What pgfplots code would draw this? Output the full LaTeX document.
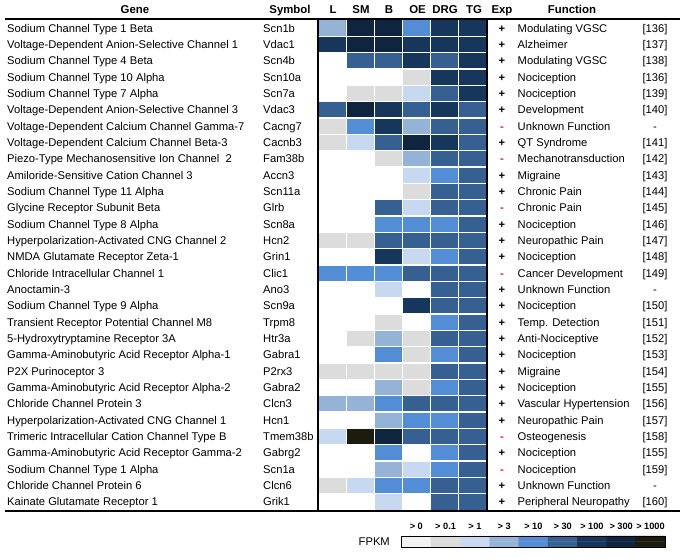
\documentclass[border=0pt]{standalone}
\usepackage{pgfplots}
\pgfplotsset{compat=1.18}
\usepackage{fontspec}
\setmainfont{Liberation Sans}
\definecolor{expred}{RGB}{225,20,20}
\newcommand\expp{\textbf{+}}
\newcommand\expm{\textbf{\textcolor{expred}{-}}}
\begin{document}
\begin{tikzpicture}
\begin{axis}[
  x=1pt, y=1pt, xmin=0, xmax=683, ymin=0, ymax=558, y dir=reverse,
  hide axis, clip=false, scale only axis,
  colormap={fpkm}{rgb255=(255,255,255) rgb255=(242,242,242) rgb255=(220,220,220)
    rgb255=(198,217,241) rgb255=(149,179,215) rgb255=(83,141,213) rgb255=(54,96,146)
    rgb255=(22,54,92) rgb255=(15,36,62) rgb255=(29,27,16)},
  colormap access=direct,
]
% heatmap: r = row (gene), c = column (L, SM, B, OE, DRG, TG), v = FPKM class
\addplot[matrix plot*, mesh/cols=6, point meta=explicit]
  table[x expr={332.083+28.1667*\thisrow{c}}, y expr={28.167+16.3333*\thisrow{r}}, meta=v, row sep=\\] {
r c v\\
0 0 4\\ 0 1 8\\ 0 2 8\\ 0 3 5\\ 0 4 7\\ 0 5 7\\
1 0 7\\ 1 1 8\\ 1 2 8\\ 1 3 7\\ 1 4 7\\ 1 5 7\\
2 0 0\\ 2 1 6\\ 2 2 6\\ 2 3 7\\ 2 4 6\\ 2 5 7\\
3 0 0\\ 3 1 0\\ 3 2 0\\ 3 3 2\\ 3 4 7\\ 3 5 7\\
4 0 0\\ 4 1 2\\ 4 2 2\\ 4 3 3\\ 4 4 6\\ 4 5 7\\
5 0 6\\ 5 1 8\\ 5 2 7\\ 5 3 6\\ 5 4 7\\ 5 5 6\\
6 0 2\\ 6 1 5\\ 6 2 7\\ 6 3 4\\ 6 4 6\\ 6 5 6\\
7 0 2\\ 7 1 3\\ 7 2 6\\ 7 3 8\\ 7 4 7\\ 7 5 6\\
8 0 0\\ 8 1 0\\ 8 2 2\\ 8 3 4\\ 8 4 6\\ 8 5 6\\
9 0 0\\ 9 1 0\\ 9 2 0\\ 9 3 3\\ 9 4 5\\ 9 5 6\\
10 0 0\\ 10 1 0\\ 10 2 0\\ 10 3 2\\ 10 4 6\\ 10 5 6\\
11 0 0\\ 11 1 0\\ 11 2 6\\ 11 3 3\\ 11 4 6\\ 11 5 6\\
12 0 0\\ 12 1 0\\ 12 2 5\\ 12 3 5\\ 12 4 5\\ 12 5 6\\
13 0 2\\ 13 1 2\\ 13 2 6\\ 13 3 6\\ 13 4 6\\ 13 5 6\\
14 0 0\\ 14 1 0\\ 14 2 7\\ 14 3 3\\ 14 4 5\\ 14 5 6\\
15 0 5\\ 15 1 5\\ 15 2 5\\ 15 3 6\\ 15 4 6\\ 15 5 6\\
16 0 0\\ 16 1 0\\ 16 2 3\\ 16 3 0\\ 16 4 6\\ 16 5 6\\
17 0 0\\ 17 1 0\\ 17 2 0\\ 17 3 7\\ 17 4 6\\ 17 5 6\\
18 0 0\\ 18 1 0\\ 18 2 2\\ 18 3 0\\ 18 4 5\\ 18 5 6\\
19 0 0\\ 19 1 2\\ 19 2 4\\ 19 3 2\\ 19 4 6\\ 19 5 6\\
20 0 0\\ 20 1 0\\ 20 2 5\\ 20 3 2\\ 20 4 5\\ 20 5 6\\
21 0 2\\ 21 1 2\\ 21 2 2\\ 21 3 2\\ 21 4 6\\ 21 5 6\\
22 0 0\\ 22 1 0\\ 22 2 4\\ 22 3 2\\ 22 4 5\\ 22 5 6\\
23 0 4\\ 23 1 4\\ 23 2 5\\ 23 3 6\\ 23 4 6\\ 23 5 6\\
24 0 0\\ 24 1 0\\ 24 2 4\\ 24 3 5\\ 24 4 5\\ 24 5 6\\
25 0 3\\ 25 1 9\\ 25 2 8\\ 25 3 6\\ 25 4 6\\ 25 5 6\\
26 0 0\\ 26 1 0\\ 26 2 5\\ 26 3 0\\ 26 4 5\\ 26 5 6\\
27 0 0\\ 27 1 0\\ 27 2 4\\ 27 3 3\\ 27 4 5\\ 27 5 6\\
28 0 2\\ 28 1 3\\ 28 2 5\\ 28 3 5\\ 28 4 6\\ 28 5 6\\
29 0 0\\ 29 1 0\\ 29 2 3\\ 29 3 0\\ 29 4 6\\ 29 5 6\\
};
% colour key (two identical rows so that the cells get a height)
\addplot[matrix plot*, mesh/cols=9, point meta=explicit]
  table[x expr={416.33+29.2667*\thisrow{c}}, y expr={538.75+5.5*\thisrow{r}}, meta=v, row sep=\\] {
r c v\\
0 0 1\\ 0 1 2\\ 0 2 3\\ 0 3 4\\ 0 4 5\\ 0 5 6\\ 0 6 7\\ 0 7 8\\ 0 8 9\\
1 0 1\\ 1 1 2\\ 1 2 3\\ 1 3 4\\ 1 4 5\\ 1 5 6\\ 1 6 7\\ 1 7 8\\ 1 8 9\\
};
\coordinate (O) at (axis cs:0,0);
\end{axis}
\begin{scope}[shift={(O)}, x=1pt, y=-1pt,
  every node/.style={inner sep=0pt, font=\fontsize{11.2}{13}\selectfont}]
\path (0,0) rectangle (683,558);
% white separators in the heatmap
\foreach \k in {1,...,5} \draw[white, line width=1.3pt] ({318+28.1667*\k},20) -- ({318+28.1667*\k},510);
\foreach \k in {1,...,29} \draw[white, line width=1.3pt] (318,{20+16.3333*\k}) -- (487,{20+16.3333*\k});
% frame lines
\draw[line width=2pt] (5,19.5) -- (680,19.5);
\draw[line width=2pt] (5,510.5) -- (680,510.5);
\draw[line width=2pt] (318,19.5) -- (318,510.5);
\draw[line width=2pt] (487,19.5) -- (487,510.5);
\draw[line width=0.9pt] (401.7,536) rectangle (665,547);
% header
\begin{scope}[every node/.style={inner sep=0pt, font=\fontsize{11.4}{13}\selectfont\bfseries, anchor=base}]
\node at (135,14) {Gene};
\node at (290,14) {Symbol};
\node at (333,14) {L};
\node at (361,14) {SM};
\node at (389,14) {B};
\node at (417.5,14) {OE};
\node at (445,14) {DRG};
\node at (474,14) {TG};
\node at (502,14) {Exp};
\node at (572,14) {Function};
\end{scope}
% rows
\foreach \g/\s/\e/\f/\r [count=\i from 0] in {
 {Sodium Channel Type 1 Beta}/Scn1b/p/{Modulating VGSC}/{[136]},
 {Voltage-Dependent Anion-Selective Channel 1}/Vdac1/p/{Alzheimer}/{[137]},
 {Sodium Channel Type 4 Beta}/Scn4b/p/{Modulating VGSC}/{[138]},
 {Sodium Channel Type 10 Alpha}/Scn10a/p/{Nociception}/{[136]},
 {Sodium Channel Type 7 Alpha}/Scn7a/p/{Nociception}/{[139]},
 {Voltage-Dependent Anion-Selective Channel 3}/Vdac3/p/{Development}/{[140]},
 {Voltage-Dependent Calcium Channel Gamma-7}/Cacng7/m/{Unknown Function}/{-},
 {Voltage-Dependent Calcium Channel Beta-3}/Cacnb3/p/{QT Syndrome}/{[141]},
 {Piezo-Type Mechanosensitive Ion Channel\ \ 2}/Fam38b/m/{Mechanotransduction}/{[142]},
 {Amiloride-Sensitive Cation Channel 3}/Accn3/p/{Migraine}/{[143]},
 {Sodium Channel Type 11 Alpha}/Scn11a/p/{Chronic Pain}/{[144]},
 {Glycine Receptor Subunit Beta}/Glrb/m/{Chronic Pain}/{[145]},
 {Sodium Channel Type 8 Alpha}/Scn8a/p/{Nociception}/{[146]},
 {Hyperpolarization-Activated CNG Channel 2}/Hcn2/p/{Neuropathic Pain}/{[147]},
 {NMDA Glutamate Receptor Zeta-1}/Grin1/p/{Nociception}/{[148]},
 {Chloride Intracellular Channel 1}/Clic1/m/{Cancer Development}/{[149]},
 {Anoctamin-3}/Ano3/p/{Unknown Function}/{-},
 {Sodium Channel Type 9 Alpha}/Scn9a/p/{Nociception}/{[150]},
 {Transient Receptor Potential Channel M8}/Trpm8/p/{Temp. Detection}/{[151]},
 {5-Hydroxytryptamine Receptor 3A}/Htr3a/p/{Anti-Nociceptive}/{[152]},
 {Gamma-Aminobutyric Acid Receptor Alpha-1}/Gabra1/p/{Nociception}/{[153]},
 {P2X Purinoceptor 3}/P2rx3/p/{Migraine}/{[154]},
 {Gamma-Aminobutyric Acid Receptor Alpha-2}/Gabra2/p/{Nociception}/{[155]},
 {Chloride Channel Protein 3}/Clcn3/p/{Vascular Hypertension}/{[156]},
 {Hyperpolarization-Activated CNG Channel 1}/Hcn1/p/{Neuropathic Pain}/{[157]},
 {Trimeric Intracellular Cation Channel Type B}/Tmem38b/m/{Osteogenesis}/{[158]},
 {Gamma-Aminobutyric Acid Receptor Gamma-2}/Gabrg2/p/{Nociception}/{[155]},
 {Sodium Channel Type 1 Alpha}/Scn1a/m/{Nociception}/{[159]},
 {Chloride Channel Protein 6}/Clcn6/p/{Unknown Function}/{-},
 {Kainate Glutamate Receptor 1}/Grik1/p/{Peripheral Neuropathy}/{[160]}%
}{
 \pgfmathsetmacro\yb{28.167+16.3333*\i+4}
 \node[anchor=base west] at (7,\yb) {\g};
 \node[anchor=base west] at (263,\yb) {\s};
 \node[anchor=base] at (502,\yb) {\csname exp\e\endcsname};
 \node[anchor=base west] at (517.5,\yb) {\f};
 \node[anchor=base] at (655,\yb) {\r};
}
% key labels
\foreach \t [count=\j from 0] in {> 0,> 0.1,> 1,> 3,> 10,> 30,> 100,> 300,> 1000}
 \node[anchor=base, font=\fontsize{9.2}{11}\selectfont\bfseries] at ({416.33+29.2667*\j},529.5) {\t};
\node[anchor=base east] at (390,545.5) {FPKM};
\end{scope}
\end{tikzpicture}
\end{document}
